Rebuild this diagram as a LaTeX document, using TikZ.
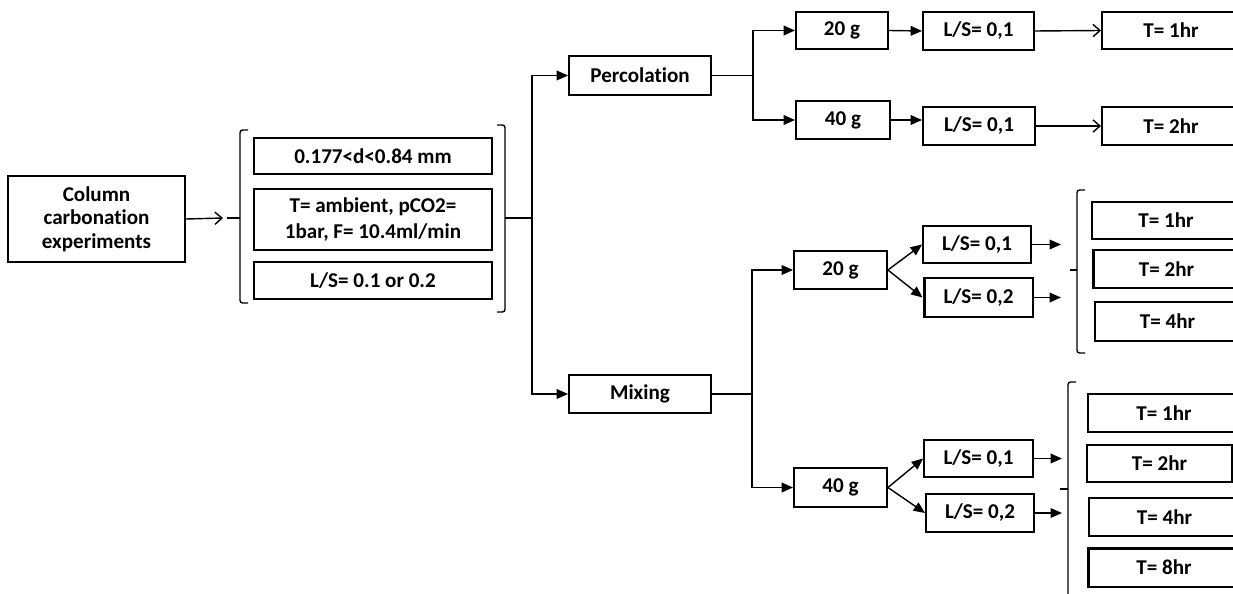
\documentclass[tikz,border=0pt]{standalone}
\usepackage{fontspec}
\setmainfont{Carlito}[Ligatures={NoCommon,NoContextual}]
\usetikzlibrary{arrows.meta}
\begin{document}
\begin{tikzpicture}[x=0.02cm,y=-0.02cm,
 box/.style={draw, line width=1.1pt, inner sep=1pt, font=\fontsize{12}{13.5}\selectfont\bfseries, align=center},
 tbox/.style={box, line width=1.7pt},
 conn/.style={line width=0.8pt},
 fa/.style={conn, -{Triangle[length=6.5pt,width=5.5pt]}},
 oa/.style={conn, -{Straight Barb[length=4pt,width=7pt]}},
 brk/.style={line width=0.8pt, rounded corners=1.5pt}]
\useasboundingbox (0,0) rectangle (1233,594);
\clip (0,0) rectangle (1233,594);
% left part
\node[box, minimum width=3.54cm, minimum height=1.72cm] (col) at (96.5,219) {Column\\carbonation\\experiments};
\node[box, minimum width=4.76cm, minimum height=0.72cm] (b1) at (373,156) {0.177<d<0.84 mm};
\node[box, minimum width=4.76cm, minimum height=1.22cm, font=\fontsize{12}{15}\selectfont\bfseries] (b2) at (373,219.5) {T= ambient, pCO2=\\1bar, F= 10.4ml/min};
\node[box, minimum width=4.76cm, minimum height=0.74cm] (b3) at (373,280.5) {L/S= 0.1 or 0.2};
% brackets
\coordinate (lbm) at (227,218);
\coordinate (lbtip) at (223,218);
\draw[brk] (248,130) -- (240,130) -- (240,303) -- (248,303);
\draw[brk] (240,218) -- (lbm);
\draw[oa] (col.east) -- (lbtip);
\draw[brk] (497,125) -- (505,125) -- (505,312) -- (497,312);
\coordinate (rbm) at (505,218);
\coordinate (j1) at (532,218);
\draw[conn] (rbm) -- (j1);
% level 2
\node[box, minimum width=2.84cm, minimum height=0.78cm] (perc) at (640,75.5) {Percolation};
\node[box, minimum width=2.84cm, minimum height=0.76cm] (mix) at (640,394) {Mixing};
\draw[fa] (j1) |- (perc.west);
\draw[fa] (j1) |- (mix.west);
% percolation branch
\node[box, minimum width=1.84cm, minimum height=0.74cm] (p20) at (842,30.5) {20 g};
\node[box, minimum width=1.88cm, minimum height=0.76cm] (p40) at (843,120) {40 g};
\node[box, minimum width=2.22cm, minimum height=0.76cm] (pls1) at (978.5,31) {L/S= 0,1};
\node[box, minimum width=2.24cm, minimum height=0.76cm] (pls2) at (979,126) {L/S= 0,1};
\node[box, minimum width=2.76cm, minimum height=0.74cm] (pt1) at (1171,30.5) {T= 1hr};
\node[box, minimum width=2.76cm, minimum height=0.76cm] (pt2) at (1171,126) {T= 2hr};
\coordinate (j2) at (753,75.5);
\draw[conn] (perc.east) -- (j2);
\draw[fa] (j2) |- (p20.west);
\draw[fa] (j2) |- (p40.west);
\draw[fa] (p20.east) -- (pls1.west);
\draw[fa] (p40.east) -- (p40.east -| pls2.west);
\draw[oa] (pls1.east) -- (pt1.west);
\draw[oa] (pls2.east) -- (pt2.west);
% mixing branch
\node[box, minimum width=1.86cm, minimum height=0.76cm] (m20) at (840.5,270) {20 g};
\node[box, minimum width=2.16cm, minimum height=0.74cm] (m20a) at (977,244.5) {L/S= 0,1};
\node[tbox, minimum width=2.18cm, minimum height=0.78cm] (m20b) at (978.5,297.5) {L/S= 0,2};
\node[box, minimum width=2.96cm, minimum height=0.74cm] (m20t1) at (1166,220.5) {T= 1hr};
\node[tbox, minimum width=2.94cm, minimum height=0.76cm] (m20t2) at (1166.5,269) {T= 2hr};
\node[box, minimum width=2.9cm, minimum height=0.78cm] (m20t4) at (1167.5,321.5) {T= 4hr};
\node[box, minimum width=1.86cm, minimum height=0.78cm] (m40) at (840.5,487.5) {40 g};
\node[box, minimum width=2.18cm, minimum height=0.74cm] (m40a) at (978.5,458.5) {L/S= 0,1};
\node[box, minimum width=2.16cm, minimum height=0.76cm] (m40b) at (980,513) {L/S= 0,2};
\node[box, minimum width=3.04cm, minimum height=0.76cm] (m40t1) at (1164,413) {T= 1hr};
\node[box, minimum width=2.9cm, minimum height=0.74cm] (m40t2) at (1159.5,463.5) {T= 2hr};
\node[box, minimum width=3.02cm, minimum height=0.76cm] (m40t4) at (1164.5,517) {T= 4hr};
\node[tbox, minimum width=3.04cm, minimum height=0.78cm] (m40t8) at (1164,567.5) {T= 8hr};
\coordinate (j3) at (752,394);
\draw[conn] (mix.east) -- (j3);
\draw[fa] (j3) |- (m20.west);
\draw[fa] (j3) |- (m40.west);
\draw[fa] (m20.east) -- (m20a.west);
\draw[fa] (m20.east) -- (m20b.west);
\draw[fa] (m40.east) -- (m40a.west);
\draw[fa] (m40.east) -- (m40b.west);
\coordinate (e1) at (1061,244.5);
\coordinate (e2) at (1061,297.5);
\coordinate (e3) at (1062,458.5);
\coordinate (e4) at (1062,513);
\draw[fa] (m20a.east) -- (e1);
\draw[fa] (m20b.east) -- (e2);
\draw[fa] (m40a.east) -- (e3);
\draw[fa] (m40b.east) -- (e4);
% braces
\draw[brk] (1085,190) -- (1077,190) -- (1077,353) -- (1085,353);
\coordinate (bm1) at (1070,270);
\draw[brk] (1077,270) -- (bm1);
\draw[brk] (1076,382) -- (1068,382) -- (1068,600);
\coordinate (bm2) at (1060,489);
\draw[brk] (1068,489) -- (bm2);
\end{tikzpicture}
\end{document}
